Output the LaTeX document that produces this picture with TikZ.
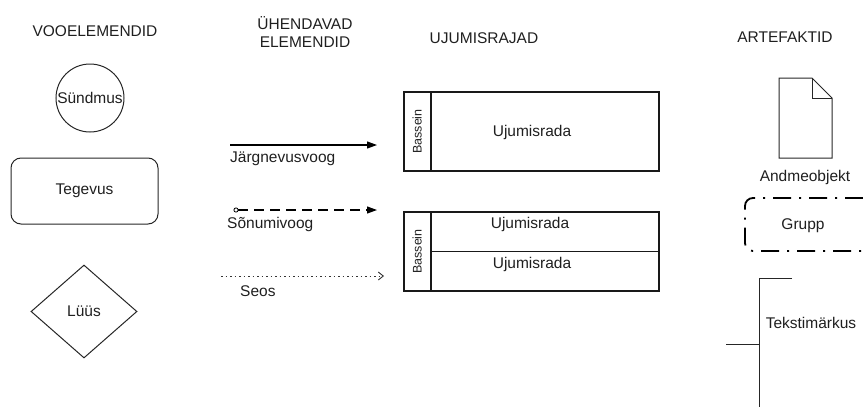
\documentclass[tikz,border=0pt]{standalone}
\usepackage{fontspec}
\setmainfont{Liberation Sans}
\usetikzlibrary{arrows.meta,shapes.geometric}
\begin{document}
\begin{tikzpicture}[x=1pt,y=-1pt,
  txt/.style={font=\fontsize{15.5}{18}\selectfont, text=black!88, inner sep=0pt},
  smalltxt/.style={font=\fontsize{12.5}{14}\selectfont, text=black!88, inner sep=0pt},
  shape line/.style={draw=black!85, line width=1pt},
  pool/.style={draw=black!90, line width=1.8pt},
  seqflow/.style={draw=black, line width=1.1pt, -{Triangle[length=10pt,width=7pt]}},
  msgflow/.style={draw=black, line width=1.1pt, dash pattern=on 10pt off 6pt,
    {Circle[open,length=5pt,width=5pt,line width=0.8pt,sep=0pt]}-{Triangle[length=10pt,width=7pt]}},
  assoc/.style={draw=black!80, line width=0.8pt, dash pattern=on 1.5pt off 3pt,
    -{Straight Barb[length=5pt,width=8pt,line width=0.9pt]}},
  groupline/.style={draw=black, line width=1.8pt, rounded corners=8pt,
    dash pattern=on 18pt off 8pt on 2pt off 8pt},
]
\useasboundingbox (0,0) rectangle (863,407);

% ---------- flow elements ----------
\node[txt] (t-flow) at (95,31) {VOOELEMENDID};

\node[circle, shape line, minimum size=68pt, inner sep=0pt] (event) at (90,98) {};
\node[txt] (event-lbl) at (event.center) {Sündmus};

\node[shape line, rounded corners=10pt, minimum width=147pt, minimum height=66pt,
  txt] (task) at (84.5,191) {Tegevus};

\node[diamond, shape line, minimum width=106pt, minimum height=93pt, inner sep=0pt]
  (gateway) at (84,311.5) {};
\node[txt] (gateway-lbl) at (gateway.center) {Lüüs};

% ---------- connecting elements ----------
\node[txt, align=center] (t-conn) at (305,32) {ÜHENDAVAD\\ELEMENDID};

\coordinate (sf-a) at (230,145);
\coordinate (sf-b) at (377,145);
\draw[seqflow] (sf-a) -- (sf-b);
\node[txt, anchor=west] (sf-lbl) at (230,159) {Järgnevusvoog};

\coordinate (mf-a) at (233.5,210);
\coordinate (mf-b) at (377,210);
\draw[msgflow] (mf-a) -- (mf-b);
\node[txt, anchor=west] (mf-lbl) at (227,224) {Sõnumivoog};

\coordinate (as-a) at (221,276);
\coordinate (as-b) at (384,276);
\draw[assoc] (as-a) -- (as-b);
\node[txt, anchor=west] (as-lbl) at (240,291) {Seos};

% ---------- swimlanes ----------
\node[txt] (t-lanes) at (484,38) {UJUMISRAJAD};

\node[pool, minimum width=255pt, minimum height=79pt, inner sep=0pt] (pool1) at (531.5,131.5) {};
\draw[pool] ([xshift=28pt]pool1.north west) -- ([xshift=28pt]pool1.south west);
\node[smalltxt, rotate=90] (pool1-lbl) at ([xshift=14pt]pool1.west) {Bassein};
\node[txt] (lane1) at (532,132) {Ujumisrada};

\node[pool, minimum width=255pt, minimum height=79pt, inner sep=0pt] (pool2) at (531.5,251.5) {};
\draw[pool] ([xshift=28pt]pool2.north west) -- ([xshift=28pt]pool2.south west);
\draw[draw=black!90, line width=1.2pt] ([xshift=28pt]pool2.west) -- (pool2.east);
\node[smalltxt, rotate=90] (pool2-lbl) at ([xshift=14pt]pool2.west) {Bassein};
\node[txt] (lane2) at (530,224) {Ujumisrada};
\node[txt] (lane3) at (532,264) {Ujumisrada};

% ---------- artifacts ----------
\node[txt] (t-art) at (785,37) {ARTEFAKTID};

% data object: page with a folded corner
\draw[shape line, line join=miter] (779,78) -- (812,78) -- (832,98) -- (832,158) -- (779,158) -- cycle;
\draw[shape line] (812,78) -- (812,98) -- (832,98);
\node[txt] (doc-lbl) at (805,177) {Andmeobjekt};

% group: dash-dot rounded frame running past the right edge
\draw[groupline] (863,198) -- (745,198) -- (745,251) -- (863,251);
\node[txt] (group-lbl) at (803,226) {Grupp};

% text annotation
\draw[shape line] (792,278) -- (759,278) -- (759,407);
\draw[shape line] (726,344) -- (759,344);
\node[txt] (note-lbl) at (811,323) {Tekstimärkus};

\end{tikzpicture}
\end{document}
